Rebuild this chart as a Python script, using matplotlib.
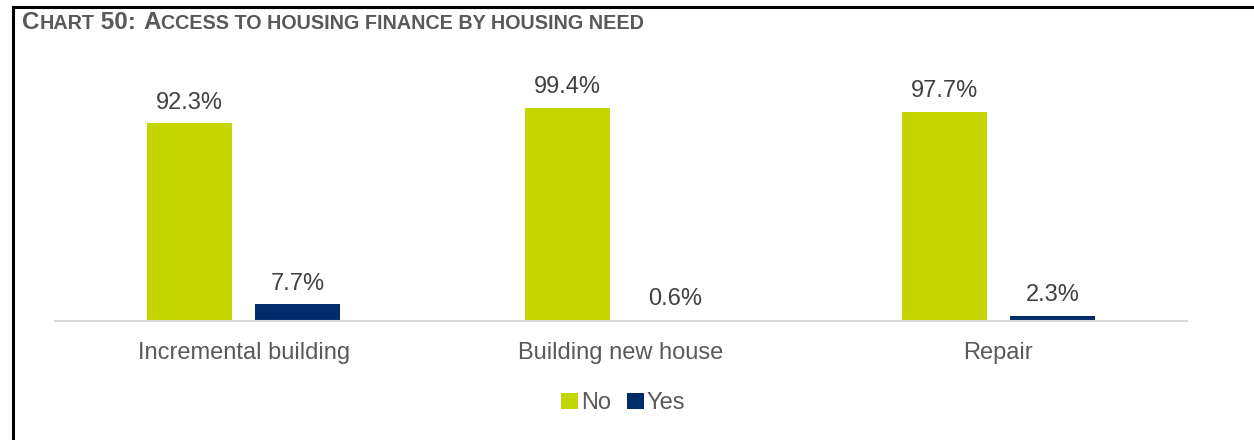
import matplotlib.pyplot as plt
import numpy as np

plt.rcParams['font.family'] = ['Liberation Sans', 'DejaVu Sans']

needs = ["Incremental building", "Building new house", "Repair"]
no_vals = [92.3, 99.4, 97.7]
yes_vals = [7.7, 0.6, 2.3]
series = ["No", "Yes"]

green = "#C4D600"
navy = "#002D6A"
grey_txt = "#595959"

fig = plt.figure(figsize=(12.54, 4.4), dpi=100)
ax = fig.add_axes([0.0439, 0.2705, 0.9027, 0.584])

x = np.arange(len(needs))
w = 0.225
off = 0.143
b1 = ax.bar(x - off, no_vals, w, color=green, label=series[0])
b2 = ax.bar(x + off, yes_vals, w, color=navy, label=series[1])

for bars, vals in ((b1, no_vals), (b2, yes_vals)):
    for rect, v in zip(bars, vals):
        ax.annotate(f"{v}%", (rect.get_x() + rect.get_width() / 2, v),
                    xytext=(0, 7), textcoords="offset points",
                    ha="center", va="bottom", fontsize=17, color="#404040")

ax.set_xlim(-0.5, 2.5)
ax.set_ylim(0, 120)
ax.set_yticks([])
ax.set_xticks(x)
ax.set_xticklabels(needs, fontsize=17, color=grey_txt)
ax.tick_params(axis="x", length=0, pad=15)
for s in ("top", "right", "left"):
    ax.spines[s].set_visible(False)
ax.spines["bottom"].set_color("#D9D9D9")
ax.spines["bottom"].set_linewidth(1.5)

leg = fig.legend(loc="center", bbox_to_anchor=(0.497, 0.084), ncol=2, frameon=False,
                 fontsize=17, handlelength=0.7, handleheight=0.7,
                 handletextpad=0.12, columnspacing=0.7)
for t in leg.get_texts():
    t.set_color(grey_txt)

# frame lines along the left and top edges
fig.add_artist(plt.Line2D([0.0104, 0.0104], [0, 0.984], transform=fig.transFigure,
                          color="black", linewidth=2.2, solid_capstyle="projecting"))
fig.add_artist(plt.Line2D([0.0104, 1.0], [0.984, 0.984], transform=fig.transFigure,
                          color="black", linewidth=2.2, solid_capstyle="projecting"))

# title in small caps, built from pieces
parts = [("C", 17.5), ("HART", 14.2), (" 50: ", 17.5), ("A", 17.5),
         ("CCESS TO HOUSING FINANCE BY HOUSING NEED", 14.2)]
renderer = fig.canvas.get_renderer()
xpos = 22
for txt, size in parts:
    t = fig.text(xpos / 1254, 1 - 29 / 440, txt, fontsize=size, fontweight="bold",
                 color=grey_txt, ha="left", va="baseline")
    xpos += t.get_window_extent(renderer).width

fig.savefig("out.png", dpi=100)
